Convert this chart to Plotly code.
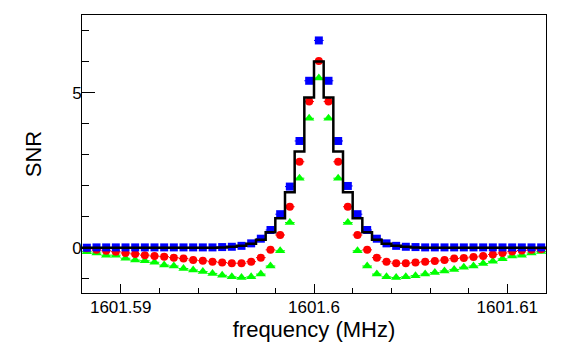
"""
SNR vs frequency: step histogram with three marker series (ROOT-style frame).
"""

from __future__ import annotations

import numpy as np
import plotly.graph_objects as go

# bins: 48 bins of 0.0005 MHz starting at 1601.588
BIN_START = 1601.588
BIN_WIDTH = 0.0005

hist_snr = [
    0.0, 0.0, 0.0, 0.0, 0.0, 0.0, 0.0, 0.0, 0.0, 0.0, 0.0, 0.0,
    0.0, 0.0, 0.01, 0.03, 0.06, 0.13, 0.26, 0.50, 0.95, 1.79, 3.10, 4.84,
    6.00, 4.84, 3.10, 1.79, 0.95, 0.50, 0.26, 0.13, 0.06, 0.03, 0.01, 0.0,
    0.0, 0.0, 0.0, 0.0, 0.0, 0.0, 0.0, 0.0, 0.0, 0.0, 0.0, 0.0,
]

blue_snr = [
    0.0, 0.01, 0.01, 0.01, 0.01, 0.01, 0.01, 0.01, 0.01, 0.01, 0.01, 0.01,
    0.01, 0.01, 0.02, 0.03, 0.06, 0.14, 0.29, 0.57, 1.08, 1.97, 3.44, 5.38,
    6.68, 5.38, 3.44, 1.99, 1.08, 0.57, 0.29, 0.14, 0.06, 0.03, 0.02, 0.01,
    0.01, 0.01, 0.01, 0.01, 0.01, 0.01, 0.01, 0.01, 0.01, 0.01, 0.01, 0.01,
]

red_snr = [
    -0.02, -0.07, -0.10, -0.13, -0.17, -0.20, -0.24, -0.27, -0.29, -0.32, -0.35, -0.40,
    -0.42, -0.45, -0.48, -0.50, -0.50, -0.45, -0.32, -0.07, 0.41, 1.32, 2.77, 4.71,
    6.02, 4.71, 2.77, 1.32, 0.41, -0.07, -0.32, -0.45, -0.50, -0.50, -0.48, -0.45,
    -0.43, -0.40, -0.35, -0.33, -0.30, -0.27, -0.22, -0.17, -0.12, -0.09, -0.07, -0.05,
]

green_snr = [
    -0.13, -0.17, -0.24, -0.24, -0.34, -0.40, -0.42, -0.47, -0.56, -0.59, -0.67, -0.72,
    -0.77, -0.83, -0.89, -0.94, -0.96, -0.94, -0.85, -0.59, -0.10, 0.81, 2.24, 4.17,
    5.47, 4.17, 2.24, 0.81, -0.10, -0.59, -0.85, -0.94, -0.96, -0.94, -0.90, -0.85,
    -0.80, -0.75, -0.70, -0.63, -0.59, -0.51, -0.44, -0.36, -0.27, -0.24, -0.17, -0.12,
]

FONT = "Liberation Sans, Arial, Helvetica, sans-serif"


def bin_centers(n: int) -> np.ndarray:
    return BIN_START + BIN_WIDTH * (np.arange(n) + 0.5)


def marker_trace(values, color: str, symbol: str, size: int) -> go.Scatter:
    x = bin_centers(len(values))
    return go.Scatter(
        x=x,
        y=values,
        mode="markers",
        marker=dict(color=color, symbol=symbol, size=size, line=dict(width=0)),
        error_x=dict(type="constant", value=BIN_WIDTH / 2, color=color, thickness=1, width=0),
        showlegend=False,
        hoverinfo="x+y",
    )


def fig_snr() -> go.Figure:
    n = len(hist_snr)
    edges = BIN_START + BIN_WIDTH * np.arange(n + 1)
    fig = go.Figure()
    fig.add_trace(marker_trace(green_snr, "#00ff00", "triangle-up", 9))
    fig.add_trace(marker_trace(red_snr, "#ff0000", "circle", 8))
    fig.add_trace(marker_trace(blue_snr, "#0000ff", "square", 8))
    fig.add_trace(
        go.Scatter(
            x=edges,
            y=list(hist_snr) + [hist_snr[-1]],
            mode="lines",
            line=dict(color="black", width=2.5, shape="hv"),
            showlegend=False,
        )
    )
    # the page body adds an 8px offset, so the figure is 8px smaller
    fig.update_layout(
        width=573,
        height=340,
        margin=dict(l=74, r=35, t=7, b=55),
        paper_bgcolor="white",
        plot_bgcolor="white",
        font=dict(family=FONT, color="black", size=17),
    )
    fig.update_xaxes(
        range=[BIN_START, BIN_START + BIN_WIDTH * n],
        tick0=1601.59,
        dtick=0.01,
        tickformat=".2~f",
        ticks="inside",
        ticklen=9,
        tickcolor="black",
        tickwidth=1,
        minor=dict(dtick=0.002, ticks="inside", ticklen=5, tickcolor="black"),
        showgrid=False,
        zeroline=False,
        showline=True,
        linecolor="black",
        linewidth=1,
        mirror=True,
        automargin=False,
        ticklabelstandoff=-1,
        tickfont=dict(size=17),
        title=dict(text="frequency (MHz)", font=dict(size=22), standoff=2),
    )
    fig.update_yaxes(
        range=[-1.46, 7.5],
        tick0=0,
        dtick=5,
        ticks="inside",
        ticklen=13,
        tickcolor="black",
        tickwidth=1,
        minor=dict(dtick=1, ticks="inside", ticklen=7, tickcolor="black"),
        showgrid=False,
        zeroline=False,
        showline=True,
        linecolor="black",
        linewidth=1,
        mirror=True,
        automargin=False,
        ticklabelstandoff=-4,
        tickfont=dict(size=17),
        title=dict(text="SNR", font=dict(size=22), standoff=24),
    )
    return fig


fig = fig_snr()
fig.write_html("out.html")
